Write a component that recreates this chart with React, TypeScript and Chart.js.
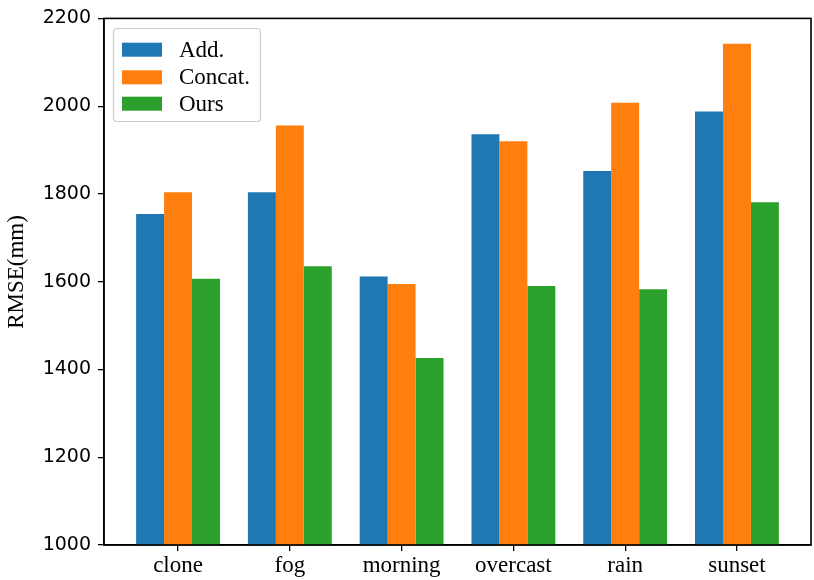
import { useEffect, useRef } from "react";
import { Chart, registerables } from "chart.js";

Chart.register(...registerables);

const categories = ["clone", "fog", "morning", "overcast", "rain", "sunset"];
const seriesLabels = ["Add.", "Concat.", "Ours"];
const addValues = [1754, 1804, 1612, 1936, 1852, 1988];
const concatValues = [1804, 1956, 1595, 1920, 2008, 2142];
const oursValues = [1607, 1635, 1426, 1590, 1583, 1781];
const seriesColors = ["#1f77b4", "#ff7f0e", "#2ca02c"];
const yMin = 1000;
const yMax = 2200;
const yStep = 200;
const yTitle = "RMSE(mm)";

const SERIF = "'Liberation Serif', 'Times New Roman', serif";
const SANS = "'DejaVu Sans', sans-serif";

const framePlugin = {
  id: "frameAndLegend",
  afterDraw(chart: any) {
    const { ctx, chartArea } = chart;
    ctx.save();
    // frame
    ctx.strokeStyle = "#000";
    ctx.lineWidth = 1.6;
    ctx.strokeRect(chartArea.left, chartArea.top, chartArea.right - chartArea.left, chartArea.bottom - chartArea.top);

    // y title
    ctx.fillStyle = "#000";
    ctx.font = `23px ${SERIF}`;
    ctx.textAlign = "center";
    ctx.textBaseline = "middle";
    ctx.save();
    ctx.translate(17, 272);
    ctx.rotate(-Math.PI / 2);
    ctx.fillText(yTitle, 0, 0);
    ctx.restore();

    // legend
    const bx = 113.5, by = 28.5, bw = 147, bh = 93, r = 4;
    ctx.beginPath();
    ctx.moveTo(bx + r, by);
    ctx.lineTo(bx + bw - r, by);
    ctx.quadraticCurveTo(bx + bw, by, bx + bw, by + r);
    ctx.lineTo(bx + bw, by + bh - r);
    ctx.quadraticCurveTo(bx + bw, by + bh, bx + bw - r, by + bh);
    ctx.lineTo(bx + r, by + bh);
    ctx.quadraticCurveTo(bx, by + bh, bx, by + bh - r);
    ctx.lineTo(bx, by + r);
    ctx.quadraticCurveTo(bx, by, bx + r, by);
    ctx.closePath();
    ctx.fillStyle = "rgba(255,255,255,0.8)";
    ctx.fill();
    ctx.strokeStyle = "#cccccc";
    ctx.lineWidth = 1.2;
    ctx.stroke();

    const rowCenters = [49.7, 77.3, 103.7];
    ctx.textAlign = "left";
    ctx.textBaseline = "middle";
    ctx.font = `23px ${SERIF}`;
    chart.data.datasets.forEach((ds: any, i: number) => {
      const cy = rowCenters[i];
      ctx.fillStyle = ds.backgroundColor;
      ctx.fillRect(122, cy - 7, 40, 14);
      ctx.fillStyle = "#000";
      ctx.fillText(ds.label, 179, cy + 1);
    });
    ctx.restore();
  },
};

export default function App() {
  const canvasRef = useRef<HTMLCanvasElement | null>(null);

  useEffect(() => {
    document.body.style.margin = "0";
    const canvas = canvasRef.current;
    if (!canvas) return;
    const seriesValues = [addValues, concatValues, oursValues];
    const chart = new Chart(canvas, {
      type: "bar",
      data: {
        datasets: seriesValues.map((vals, si) => ({
          label: seriesLabels[si],
          data: vals.map((v, i) => ({ x: i, y: v })),
          backgroundColor: seriesColors[si],
          borderWidth: 0,
          categoryPercentage: 0.75,
          barPercentage: 1.0,
        })),
      },
      options: {
        animation: false,
        responsive: false,
        maintainAspectRatio: false,
        devicePixelRatio: 1,
        layout: { padding: { left: 0, top: 18, right: 3, bottom: 0 } },
        plugins: {
          legend: { display: false },
          tooltip: { enabled: false },
        },
        scales: {
          x: {
            type: "linear",
            min: -0.6625,
            max: 5.6625,
            offset: false,
            afterBuildTicks: (scale: any) => {
              scale.ticks = categories.map((_, i) => ({ value: i }));
            },
            afterFit: (scale: any) => {
              scale.height = 35;
            },
            grid: {
              display: true,
              offset: false,
              drawOnChartArea: false,
              drawTicks: true,
              tickLength: 6,
              color: "#000",
              lineWidth: 1.3,
            },
            border: { display: true, color: "#000", width: 1.6 },
            ticks: {
              autoSkip: false,
              maxRotation: 0,
              minRotation: 0,
              padding: 1,
              color: "#000",
              font: { family: SERIF, size: 23 },
              callback: (v: any) => categories[Math.round(Number(v))] ?? "",
            },
          },
          y: {
            type: "linear",
            min: yMin,
            max: yMax,
            afterFit: (scale: any) => {
              scale.width = 104;
            },
            grid: {
              display: true,
              drawOnChartArea: false,
              drawTicks: true,
              tickLength: 6,
              color: "#000",
              lineWidth: 1.3,
            },
            border: { display: true, color: "#000", width: 1.6 },
            ticks: {
              stepSize: yStep,
              padding: 7,
              color: "#000",
              font: { family: SANS, size: 19 },
              callback: (v: any) => String(v),
            },
          },
        },
      },
      plugins: [framePlugin],
    } as any);
    return () => chart.destroy();
  }, []);

  return (
    <div style={{ position: "absolute", left: 0, top: 0, width: 814, height: 580, background: "#fff" }}>
      <canvas ref={canvasRef} width={814} height={580} style={{ display: "block", width: 814, height: 580 }} />
    </div>
  );
}
